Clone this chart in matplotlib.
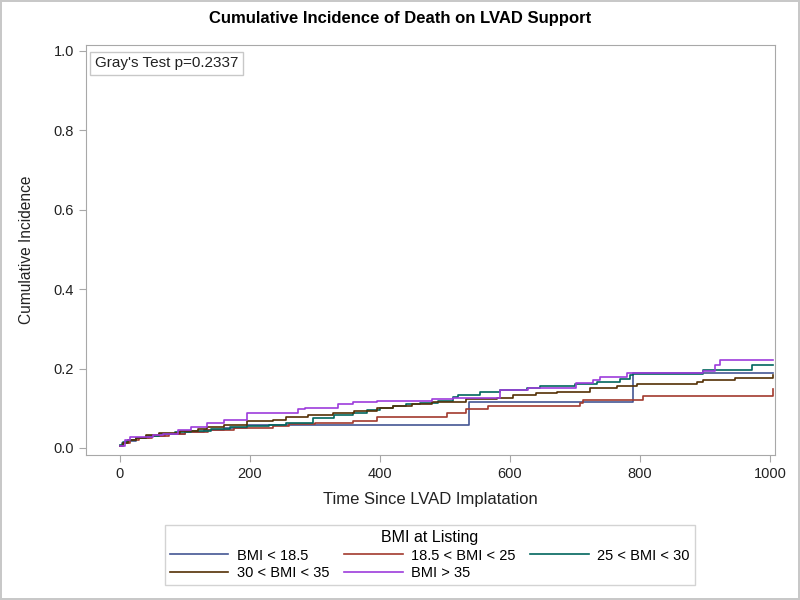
import numpy as np
import matplotlib.pyplot as plt

plt.rcParams['font.family'] = ['Liberation Sans', 'DejaVu Sans']

# Step points (time, cumulative incidence)
blue_t = [0, 3, 10, 25, 45, 70, 100, 130, 160, 195, 537, 790, 1005]
blue_y = [0.005, 0.012, 0.018, 0.024, 0.030, 0.036, 0.041, 0.046, 0.051, 0.058, 0.115, 0.188, 0.188]

red_t = [0, 5, 15, 30, 50, 75, 100, 135, 175, 235, 260, 300, 358, 395, 430, 503, 533, 567,
         708, 712, 805, 1000, 1005]
red_y = [0.005, 0.012, 0.020, 0.026, 0.031, 0.036, 0.040, 0.045, 0.050, 0.055, 0.061, 0.063,
         0.069, 0.077, 0.079, 0.087, 0.097, 0.107, 0.114, 0.121, 0.131, 0.131, 0.148]

teal_t = [0, 5, 12, 25, 40, 60, 85, 110, 140, 170, 195, 230, 256, 297, 330, 358, 380, 400, 420,
          440, 461, 490, 513, 520, 554, 585, 626, 646, 700, 734, 769, 785, 790, 897, 972, 1005]
teal_y = [0.008, 0.014, 0.020, 0.026, 0.031, 0.036, 0.040, 0.044, 0.048, 0.052, 0.055, 0.059,
          0.063, 0.075, 0.082, 0.089, 0.095, 0.100, 0.106, 0.110, 0.114, 0.118, 0.129, 0.134,
          0.140, 0.146, 0.152, 0.157, 0.160, 0.167, 0.175, 0.184, 0.186, 0.196, 0.209, 0.209]

brown_t = [0, 5, 12, 25, 40, 60, 92, 120, 134, 160, 195, 235, 256, 290, 328, 360, 395, 420, 450,
           480, 533, 580, 605, 640, 672, 723, 765, 795, 888, 897, 946, 1005]
brown_y = [0.005, 0.012, 0.020, 0.026, 0.032, 0.038, 0.044, 0.048, 0.052, 0.058, 0.068, 0.070,
           0.077, 0.082, 0.089, 0.094, 0.100, 0.107, 0.110, 0.115, 0.123, 0.127, 0.134, 0.138,
           0.142, 0.150, 0.155, 0.160, 0.167, 0.172, 0.176, 0.183]

purple_t = [0, 8, 15, 51, 66, 90, 110, 134, 160, 195, 274, 285, 336, 358, 395, 480, 513, 585,
            628, 702, 728, 738, 780, 897, 915, 923, 1005]
purple_y = [0.005, 0.020, 0.028, 0.032, 0.036, 0.045, 0.053, 0.062, 0.070, 0.089, 0.097, 0.100,
            0.111, 0.115, 0.119, 0.123, 0.127, 0.146, 0.152, 0.163, 0.171, 0.180, 0.190, 0.195,
            0.209, 0.222, 0.222]

labels = ["BMI < 18.5", "18.5 < BMI < 25", "25 < BMI < 30", "30 < BMI < 35", "BMI > 35"]
colors = ["#445694", "#A23A2E", "#01665E", "#543005", "#9D3CDB"]
series = [(blue_t, blue_y), (red_t, red_y), (teal_t, teal_y), (brown_t, brown_y), (purple_t, purple_y)]

fig = plt.figure(figsize=(8, 6), dpi=100, linewidth=1.5, edgecolor='#c8c8c8')
ax = fig.add_axes([0.1075, 0.2417, 0.8615, 0.6833])

handles = []
for (t, y), lab, c in zip(series, labels, colors):
    h, = ax.step(t, y, where='post', color=c, lw=1.2, label=lab)
    handles.append(h)

ax.set_xlim(-52, 1008)
ax.set_ylim(-0.0176, 1.015)
ax.set_xticks(np.arange(0, 1001, 200))
ax.set_yticks(np.arange(0, 1.01, 0.2))
ax.set_yticklabels([f"{v:.1f}" for v in np.arange(0, 1.01, 0.2)])

for s in ax.spines.values():
    s.set_color('#a8a8a8')
ax.tick_params(colors='#a8a8a8', labelcolor='#222222', labelsize=10.5, length=5)

ax.set_xlabel("Time Since LVAD Implatation", fontsize=12, color='#222222', labelpad=8)
ax.set_ylabel("Cumulative Incidence", fontsize=11.2, color='#222222', labelpad=14)
fig.suptitle("Cumulative Incidence of Death on LVAD Support", fontsize=12,
             fontweight='bold', y=0.982)

ax.text(0.0125, 0.972, "Gray's Test p=0.2337", transform=ax.transAxes, fontsize=11,
        va='top', ha='left', color='#222222',
        bbox=dict(boxstyle='square,pad=0.3', fc='white', ec='#c8c8c8', lw=1))

# legend filled row-wise like the reference
order = [0, 3, 1, 4, 2]
leg = fig.legend([handles[i] for i in order], [labels[i] for i in order],
                 title="BMI at Listing", ncol=3, loc='center',
                 bbox_to_anchor=(0.5375, 0.075), fontsize=10.5, title_fontsize=11.5,
                 frameon=True, fancybox=False, edgecolor='#c8c8c8',
                 handlelength=4.0, columnspacing=1.0, handletextpad=0.6,
                 labelspacing=0.25, borderpad=0.35)
leg.get_frame().set_linewidth(1)

fig.savefig("out.png", dpi=100, edgecolor=fig.get_edgecolor())
